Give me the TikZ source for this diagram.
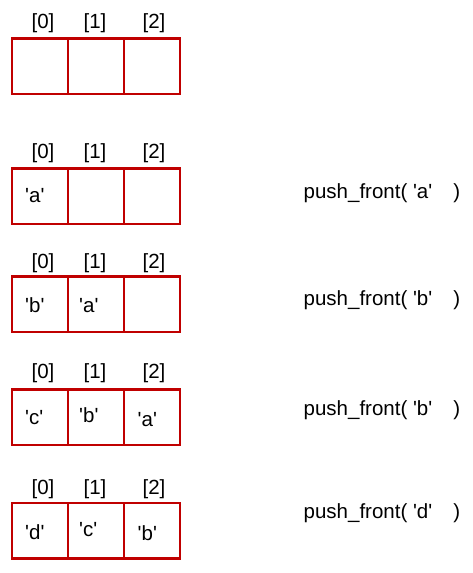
\documentclass[tikz,border=0pt]{standalone}
\usepackage{fontspec}
\setmainfont{Liberation Sans}
\newcommand{\sq}{\textquotesingle}
\definecolor{cellred}{HTML}{C00000}
\tikzset{
  cell/.style={draw=cellred, line width=2.5pt, minimum width=56pt, minimum height=55.5pt, inner sep=0pt, outer sep=0pt},
  idx/.style={anchor=base, inner sep=0pt, font=\fontsize{20.5pt}{24pt}\selectfont},
  val/.style={anchor=base west, inner sep=0pt, font=\fontsize{20.5pt}{24pt}\selectfont},
  op/.style={anchor=base west, inner sep=0pt, font=\fontsize{20.5pt}{24pt}\selectfont}
}
\begin{document}
\begin{tikzpicture}[x=1pt,y=-1pt]
\useasboundingbox (0,0) rectangle (473,573);
% rows of cells
\foreach \r/\top in {1/38.7,2/168.7,3/276.7,4/389.3,5/503}{
  \node[cell] (r\r c0) at (40,\top+27.75) {};
  \node[cell] (r\r c1) at (96,\top+27.75) {};
  \node[cell] (r\r c2) at (152,\top+27.75) {};
}
% index labels
\foreach \r/\b in {1/28,2/158,3/268,4/378.5,5/494}{
  \node[idx] (i\r a) at (43,\b) {[0]};
  \node[idx] (i\r b) at (95,\b) {[1]};
  \node[idx] (i\r c) at (154,\b) {[2]};
}
% values
\node[val] (v2a) at (25,202) {\sq a\sq};
\node[val] (v3a) at (25,312) {\sq b\sq};
\node[val] (v3b) at (79,312) {\sq a\sq};
\node[val] (v4a) at (25,424) {\sq c\sq};
\node[val] (v4b) at (79,422.7) {\sq b\sq};
\node[val] (v4c) at (137.5,426) {\sq a\sq};
\node[val] (v5a) at (25,539) {\sq d\sq};
\node[val] (v5b) at (79,536) {\sq c\sq};
\node[val] (v5c) at (137.5,540) {\sq b\sq};
% operations
\node[op] (o2) at (303.5,198) {push\_front( \sq a\sq\hspace*{21pt})};
\node[op] (o3) at (303.5,305) {push\_front( \sq b\sq\hspace*{21pt})};
\node[op] (o4) at (303.5,415) {push\_front( \sq b\sq\hspace*{21pt})};
\node[op] (o5) at (303.5,518) {push\_front( \sq d\sq\hspace*{21pt})};
\end{tikzpicture}
\end{document}
